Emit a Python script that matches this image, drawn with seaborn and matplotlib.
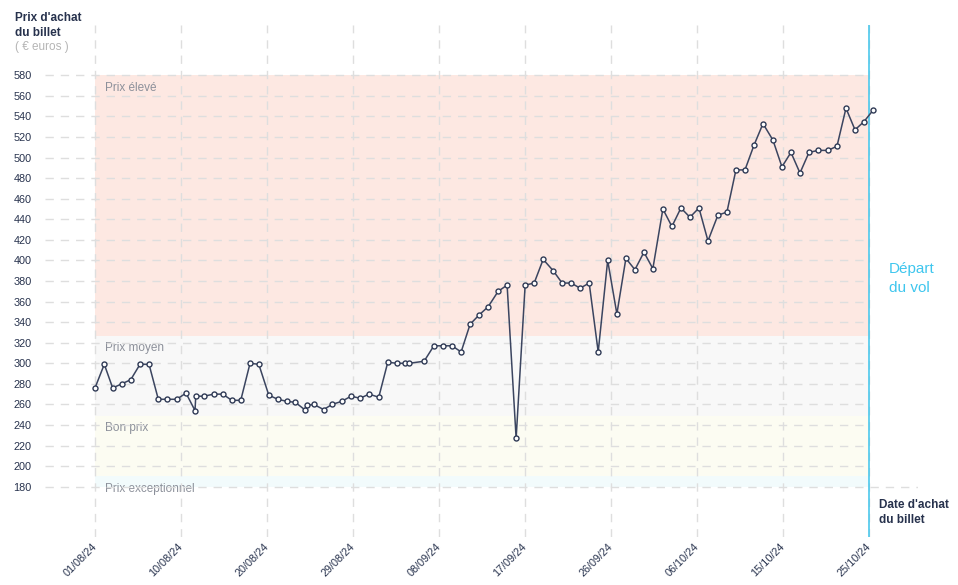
import numpy as np
import pandas as pd
import matplotlib
matplotlib.use("Agg")
import matplotlib.pyplot as plt
import seaborn as sns

# jours depuis le 01/08/24 et prix du billet en euros
jours = [0, 1.02, 1.94, 2.93, 3.92, 4.94, 5.93, 6.95, 7.94, 8.97,
         9.99, 10.98, 11.06, 11.97, 13.04, 14.02, 15.01, 16.0, 17.02, 17.98,
         19.08, 20.06, 21.05, 22.0, 23.0, 23.25, 24.02, 25.1, 26.03, 27.09,
         28.11, 29.1, 30.09, 31.15, 32.14, 33.13, 34.06, 34.5, 36.13, 37.2,
         38.22, 39.2, 40.19, 41.18, 42.17, 43.16, 44.26, 45.24, 46.23, 47.22,
         48.21, 49.2, 50.3, 51.28, 52.27, 53.26, 54.25, 55.24, 56.28, 57.29,
         58.28, 59.27, 60.26, 61.24, 62.34, 63.33, 64.32, 65.31, 66.3, 67.29,
         68.38, 69.37, 70.36, 71.35, 72.34, 73.33, 74.42, 75.41, 76.4, 77.39,
         78.38, 79.37, 80.46, 81.45, 82.44, 83.43, 84.42, 85.41]
prix = [276, 299, 276, 280, 284, 299, 299, 265, 265, 265,
        271, 254, 268, 268, 270, 270, 264, 264, 300, 299,
        269, 265, 263, 262, 255, 259, 260, 255, 260, 263,
        268, 266, 270, 267, 301, 300, 300, 300, 302, 317,
        317, 317, 311, 338, 347, 355, 370, 376, 227, 376,
        378, 401, 390, 378, 378, 373, 378, 311, 400, 348,
        402, 391, 408, 392, 450, 433, 451, 442, 451, 419,
        444, 447, 488, 488, 512, 533, 517, 491, 505, 485,
        505, 507, 507, 511, 548, 527, 535, 546]

date_labels = ["01/08/24", "10/08/24", "20/08/24", "29/08/24", "08/09/24",
               "17/09/24", "26/09/24", "06/10/24", "15/10/24", "25/10/24"]
depart = 85

# zones de prix
zone_noms = ["Prix exceptionnel", "Bon prix", "Prix moyen", "Prix élevé"]
zone_bas = [180, 190, 249, 327]
zone_haut = [190, 249, 327, 580]
zone_couleurs = ["#f2fbfc", "#fcfcf2", "#f8f8f8", "#fde8e2"]

df = pd.DataFrame({"jour": jours, "prix": prix})

sns.set_style("white")
plt.rcParams["font.family"] = ["Liberation Sans", "DejaVu Sans"]

navy = "#27324d"
grid_col = "#dedede"

W, H = 958, 585
fig = plt.figure(figsize=(W / 100, H / 100), dpi=100)
ax = fig.add_axes([45 / W, 48 / H, (918 - 45) / W, (537 - 25) / H])

px_jour = (869.3 - 95) / 85
xmin, xmax = (45 - 95) / px_jour, (918 - 95) / px_jour
ax.set_xlim(xmin, xmax)
ax.set_ylim(131.1, 628.9)

for nom, b, h, c in zip(zone_noms, zone_bas, zone_haut, zone_couleurs):
    ax.fill_between([0, depart], b, h, color=c, lw=0, zorder=0)
    ax.text(1.1, h - 12.3, nom, va="center", ha="left", fontsize=8.5,
            color="#8c909a", zorder=1)

yticks = list(range(180, 600, 20))
for v in yticks:
    right = xmax if v == 180 else depart
    ax.plot([xmin, right], [v, v], color=grid_col, lw=1, dashes=(6, 5), zorder=1)

xticks = np.linspace(0, depart, len(date_labels))
for xv in xticks:
    ax.axvline(xv, color=grid_col, lw=1, dashes=(6, 5), zorder=1)
ax.axvline(depart, color="#4cc8ec", lw=1.2, zorder=2)

sns.lineplot(data=df, x="jour", y="prix", ax=ax, color="#3b4560", lw=1.1,
             marker="o", markersize=3.6, markerfacecolor="white",
             markeredgecolor="#2f3a55", markeredgewidth=1.0,
             estimator=None, sort=False, zorder=3)

ax.set_yticks(yticks)
ax.set_yticklabels([str(v) for v in yticks])
ax.set_xticks(xticks)
ax.set_xticklabels(date_labels, rotation=45, ha="right", va="center",
                   rotation_mode="anchor")
ax.tick_params(axis="y", length=0, pad=9.5, labelsize=7.8, labelcolor=navy)
ax.tick_params(axis="x", length=0, pad=6, labelsize=7.8, labelcolor=navy)
ax.set_xlabel("")
ax.set_ylabel("")
for s in ax.spines.values():
    s.set_visible(False)

fig.text(15 / W, 1 - 12 / H, "Prix d'achat\ndu billet", ha="left", va="top",
         fontsize=8.5, fontweight="bold", color=navy, linespacing=1.3)
fig.text(15 / W, 1 - 50 / H, "( € euros )", ha="left", va="baseline",
         fontsize=8.5, color="#b5b5b5")
fig.text(879 / W, 1 - 499 / H, "Date d'achat\ndu billet", ha="left", va="top",
         fontsize=8.5, fontweight="bold", color=navy, linespacing=1.3)
fig.text(889 / W, 1 - 262 / H, "Départ\ndu vol", ha="left", va="top",
         fontsize=11, color="#3fc6ee", linespacing=1.45)

fig.savefig("out.png", dpi=100)
